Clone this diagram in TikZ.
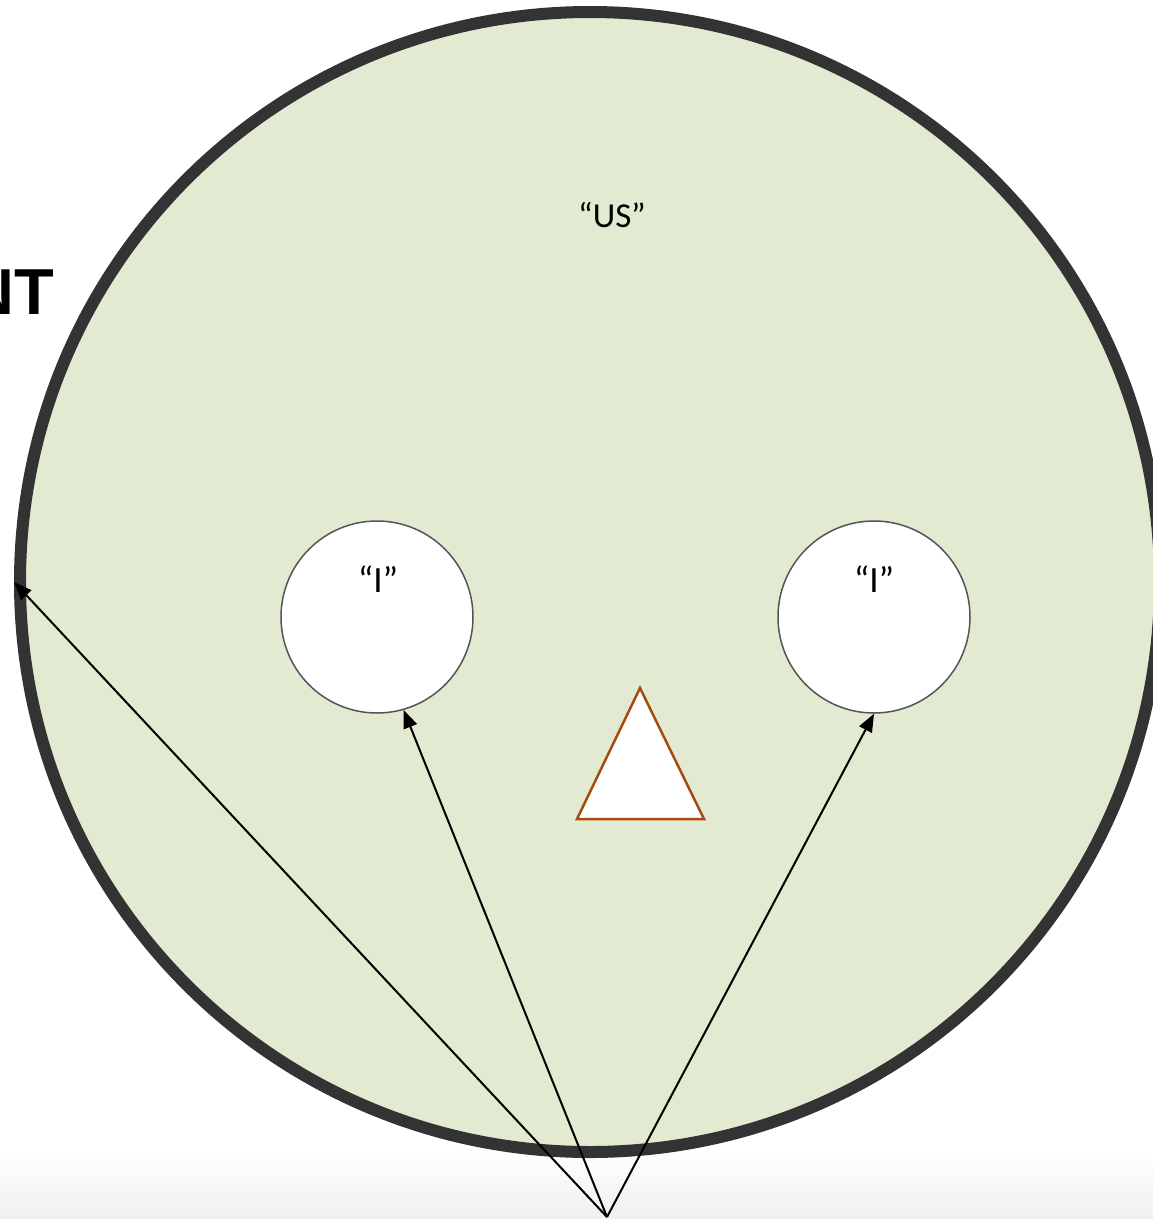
\documentclass[tikz,border=0pt]{standalone}
\usepackage{fontspec}
\setmainfont{Carlito}
\newfontfamily\headfont{Liberation Sans}
\usetikzlibrary{arrows.meta,positioning}
\definecolor{usgreen}{HTML}{E2EAD2}
\definecolor{rimgray}{HTML}{333333}
\definecolor{edgegray}{HTML}{555555}
\definecolor{nosebrown}{HTML}{A64B0E}
\tikzset{
  bigcircle/.style={circle, draw=rimgray, line width=12pt, fill=usgreen, minimum size=1140pt, inner sep=0pt},
  selfcircle/.style={circle, draw=edgegray, line width=1.5pt, fill=white, minimum size=192pt, inner sep=0pt},
  lab/.style={inner sep=0pt, anchor=base, font=\fontsize{35}{40}\selectfont},
  arr/.style={-{Triangle[length=18pt,width=14pt]}, line width=2pt},
}

\begin{document}
\begin{tikzpicture}[x=1pt, y=-1pt]
  \useasboundingbox (0,0) rectangle (1153,1219);
  % faint shadow below the circle
  \shade[top color=white, bottom color=black!6] (0,1150) rectangle (1153,1219);
  \node[bigcircle] (us) at (590,582) {};
  \node[lab] (ustext) at (612,227) {“US”};
  \node[inner sep=0pt, anchor=base east, font=\headfont\bfseries\fontsize{65}{70}\selectfont] (nt) at (54,314) {NT};
  \node[selfcircle] (ileft) at (377,617) {};
  \node[selfcircle] (iright) at (874,617) {};
  \node[lab, font=\fontsize{37}{42}\selectfont] (ilefttext) at (378,592) {“I”};
  \node[lab, font=\fontsize{37}{42}\selectfont] (irighttext) at (874,592) {“I”};
  \draw[nosebrown, line width=2.5pt, fill=white, line join=miter] (640,688) -- (704,819) -- (577,819) -- cycle;
  \coordinate (src) at (607,1217);
  \draw[arr] (src) -- (us.180.5);
  \draw[arr] (src) -- (ileft.-74);
  \draw[arr] (src) -- (iright.south);
\end{tikzpicture}
\end{document}
